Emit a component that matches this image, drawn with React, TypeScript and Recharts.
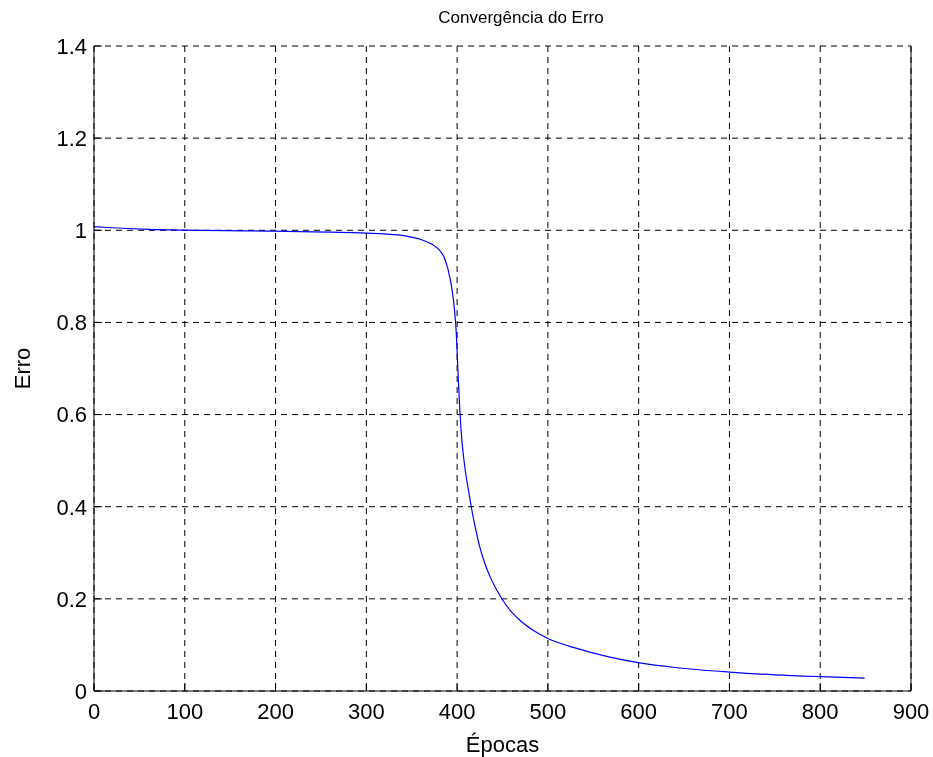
import { LineChart, Line, XAxis, YAxis, CartesianGrid } from 'recharts';

const epocas = [
  0, 15, 60, 200, 300, 335, 352, 360, 372, 380, 386, 390, 394, 397, 399, 401, 403, 405, 407, 410,
  413, 416, 420, 424, 430, 437, 444, 450, 458, 470, 485, 500, 529, 567, 601, 640, 700, 750, 801, 849,
];
const erro = [
  1.008, 1.006, 1.002, 0.998, 0.994, 0.99, 0.984, 0.98, 0.97, 0.958, 0.94, 0.915, 0.876, 0.83, 0.78,
  0.69, 0.61, 0.55, 0.51, 0.465, 0.43, 0.395, 0.355, 0.32, 0.28, 0.245, 0.218, 0.198, 0.176, 0.152,
  0.13, 0.114, 0.094, 0.074, 0.061, 0.051, 0.041, 0.035, 0.031, 0.028,
];
const xTicks = [0, 100, 200, 300, 400, 500, 600, 700, 800, 900];
const yTicks = [0, 0.2, 0.4, 0.6, 0.8, 1, 1.2, 1.4];

const data = epocas.map((e, i) => ({ epoca: e, erro: erro[i] }));

const font = '"Liberation Sans", Arial, sans-serif';
const tickStyle = { fontSize: 22, fill: '#000', fontFamily: font };
const fmt = (v: number) => String(Number(v.toFixed(1)));

export default function App() {
  return (
    <div style={{ position: 'fixed', left: 0, top: 0, width: 933, height: 757, background: '#fff' }}>
      <div
        style={{
          position: 'absolute',
          left: 0,
          width: 1042,
          top: 8,
          textAlign: 'center',
          fontFamily: font,
          fontSize: 17,
          color: '#000',
        }}
      >
        Convergência do Erro
      </div>
      <LineChart
        width={933}
        height={757}
        data={data}
        margin={{ top: 46, right: 12, bottom: 6, left: 34 }}
      >
        <CartesianGrid
          xAxisId="b"
          yAxisId="l"
          stroke="#000"
          strokeDasharray="6 5"
          strokeWidth={1}
          verticalValues={xTicks}
          horizontalValues={yTicks}
        />
        <XAxis
          xAxisId="b"
          dataKey="epoca"
          type="number"
          domain={[0, 900]}
          ticks={xTicks}
          height={60}
          tickSize={-8}
          tickMargin={20}
          stroke="#000"
          tick={tickStyle}
          interval={0}
          label={{ value: 'Épocas', position: 'insideBottom', offset: -1, style: { fontSize: 22, fontFamily: font, fill: '#000' } }}
        />
        <XAxis
          xAxisId="t"
          orientation="top"
          dataKey="epoca"
          type="number"
          domain={[0, 900]}
          ticks={xTicks}
          height={0}
          tickSize={-8}
          stroke="#000"
          tickFormatter={() => ''}
          interval={0}
        />
        <YAxis
          yAxisId="l"
          type="number"
          domain={[0, 1.4]}
          ticks={yTicks}
          width={60}
          tickSize={-8}
          tickMargin={15}
          stroke="#000"
          tick={tickStyle}
          tickFormatter={fmt}
          interval={0}
          label={{ value: 'Erro', angle: -90, position: 'insideLeft', offset: -12, style: { fontSize: 22, fontFamily: font, fill: '#000', textAnchor: 'middle' } }}
        />
        <YAxis
          yAxisId="r"
          orientation="right"
          type="number"
          domain={[0, 1.4]}
          ticks={yTicks}
          width={10}
          tickSize={-8}
          stroke="#000"
          tickFormatter={() => ''}
          interval={0}
        />
        <Line
          xAxisId="b"
          yAxisId="l"
          type="monotone"
          dataKey="erro"
          stroke="#0000ff"
          strokeWidth={1.2}
          dot={false}
          isAnimationActive={false}
        />
      </LineChart>
    </div>
  );
}
